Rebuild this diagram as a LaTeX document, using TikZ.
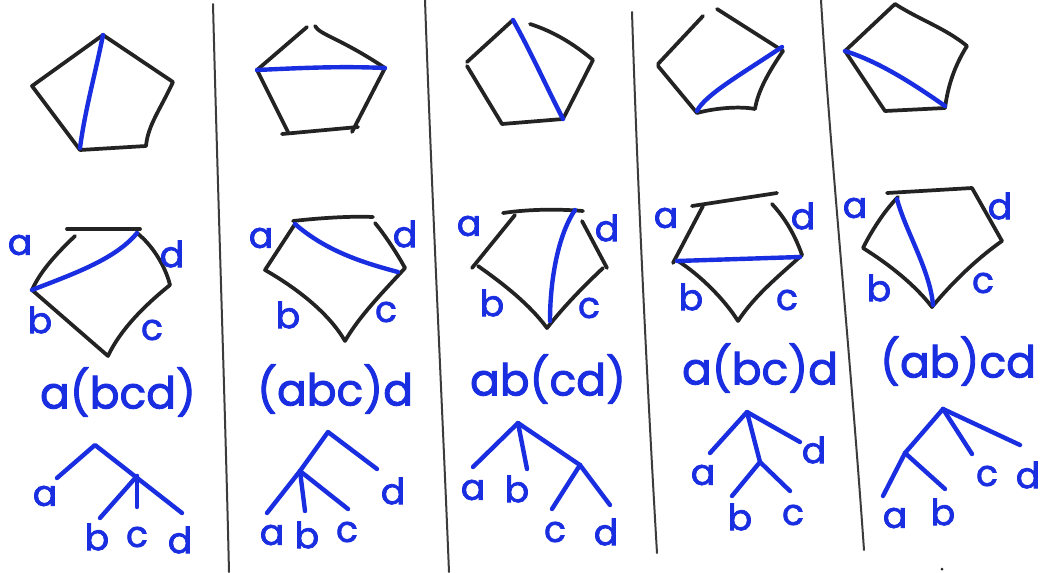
\documentclass[tikz,border=0pt]{standalone}
\usepackage{fontspec}
\setmainfont{Poppins}
\newfontfamily\markerfont{Poppins}[FakeBold=2]
\definecolor{inkblue}{RGB}{25,45,225}
\definecolor{inkblack}{RGB}{35,35,35}
\definecolor{divgray}{RGB}{60,60,60}
\begin{document}
\begin{tikzpicture}[x=0.75pt,y=-0.75pt,
  edge/.style={draw=inkblack,line width=2.8pt,line cap=round,line join=round},
  diag/.style={draw=inkblue,line width=3.3pt,line cap=round,line join=round},
  tree/.style={draw=inkblue,line width=3.3pt,line cap=round,line join=round},
  divider/.style={draw=divgray,line width=1.5pt,line cap=round},
  lbl/.style={text=inkblue,inner sep=0pt,font=\markerfont\fontsize{27}{29}\selectfont},
  formula/.style={text=inkblue,inner sep=0pt,font=\markerfont\fontsize{33}{35}\selectfont}]
\useasboundingbox[fill=white] (0,0) rectangle (1047,572);

% dividers
\draw[divider] (213,4) .. controls (218,200) and (225,400) .. (229,572);
\draw[divider] (425,0) .. controls (432,200) and (442,400) .. (449,572);
\draw[divider] (632,12) .. controls (638,200) and (648,400) .. (657,553);
\draw[divider] (821,0) .. controls (830,150) and (850,350) .. (864,550);
\fill[inkblack] (942,569) circle (1.5);

% ---------- column 1 ----------
\draw[edge] (103,35) -- (173,82) .. controls (160,110) and (148,125) .. (146,146) -- (80,150) -- (32,86) -- cycle;
\draw[diag] (103,35) .. controls (95,75) and (85,110) .. (80,148);

\draw[edge] (67,229) -- (140,229);
\draw[edge] (75,236) .. controls (55,255) and (40,272) .. (32,290) -- (108,356) .. controls (120,330) and (145,305) .. (170,285);
\draw[edge] (137,233) .. controls (152,245) and (165,265) .. (170,285);
\draw[diag] (32,290) .. controls (70,275) and (115,260) .. (137,233);
\node[lbl] (a1) at (20,245) {a};
\node[lbl] (d1) at (172,254) {d};
\node[lbl] (b1) at (40,320) {b};
\node[lbl] (c1) at (152,330) {c};
\node[formula] (f1) at (118,392) {a(bcd)};
\coordinate (r1) at (95,445);
\coordinate (j1) at (137,476);
\draw[tree] (57,478) -- (r1) -- (182,513);
\draw[tree] (j1) -- (100,518);
\draw[tree] (j1) -- (137,507);
\node[lbl] (ta1) at (45,496) {a};
\node[lbl] (tb1) at (97,537) {b};
\node[lbl] (tc1) at (137,537) {c};
\node[lbl] (td1) at (180,540) {d};

% ---------- column 2 ----------
\draw[edge] (257,70) -- (307,27);
\draw[edge] (315,26) .. controls (320,35) and (340,38) .. (385,68) -- (352,132);
\draw[edge] (282,134) -- (358,127);
\draw[edge] (257,70) -- (288,132);
\draw[diag] (257,70) .. controls (300,68) and (340,66) .. (385,68);

\draw[edge] (293,221) .. controls (320,218) and (350,216) .. (373,217);
\draw[edge] (295,224) -- (265,270) .. controls (300,290) and (330,315) .. (345,341) .. controls (360,315) and (385,290) .. (405,268);
\draw[edge] (375,223) .. controls (385,235) and (398,255) .. (405,268);
\draw[diag] (295,224) .. controls (325,250) and (360,262) .. (398,272);
\node[lbl] (a2) at (261,238) {a};
\node[lbl] (d2) at (405,234) {d};
\node[lbl] (b2) at (288,315) {b};
\node[lbl] (c2) at (386,312) {c};
\node[formula] (f2) at (335,389) {(abc)d};
\coordinate (r2) at (328,432);
\coordinate (j2) at (300,471);
\draw[tree] (377,469) -- (r2) -- (j2) -- (267,513);
\draw[tree] (j2) -- (305,511);
\draw[tree] (j2) -- (348,509);
\node[lbl] (ta2) at (272,535) {a};
\node[lbl] (tb2) at (307,535) {b};
\node[lbl] (tc2) at (347,532) {c};
\node[lbl] (td2) at (393,491) {d};

% ---------- column 3 ----------
\draw[edge] (513,20) -- (467,62);
\draw[edge] (530,24) .. controls (555,32) and (575,45) .. (593,60) -- (563,119) -- (502,124) -- (467,66);
\draw[diag] (513,20) .. controls (530,50) and (548,90) .. (563,119);

\draw[edge] (503,213) .. controls (530,209) and (560,209) .. (583,211);
\draw[edge] (515,215) -- (472,268);
\draw[edge] (478,266) .. controls (505,285) and (530,305) .. (547,328) .. controls (565,305) and (585,285) .. (603,268);
\draw[edge] (582,221) -- (607,268);
\draw[diag] (575,210) .. controls (558,235) and (550,280) .. (550,321);
\node[lbl] (a3) at (469,226) {a};
\node[lbl] (d3) at (607,228) {d};
\node[lbl] (b3) at (492,303) {b};
\node[lbl] (c3) at (589,308) {c};
\node[formula] (f3) at (548,379) {ab(cd)};
\coordinate (r3) at (518,423);
\coordinate (j3) at (580,465);
\draw[tree] (473,467) -- (r3) -- (j3) -- (610,505);
\draw[tree] (r3) -- (527,469);
\draw[tree] (j3) -- (552,509);
\node[lbl] (ta3) at (473,490) {a};
\node[lbl] (tb3) at (517,489) {b};
\node[lbl] (tc3) at (555,532) {c};
\node[lbl] (td3) at (606,532) {d};

% ---------- column 4 ----------
\draw[edge] (703,16) -- (658,64);
\draw[edge] (717,9) -- (783,51);
\draw[edge] (658,66) -- (697,113) .. controls (715,108) and (740,106) .. (755,109) .. controls (758,90) and (770,70) .. (783,51);
\draw[diag] (697,111) .. controls (705,95) and (740,75) .. (782,47);

\draw[edge] (692,206) -- (777,193);
\draw[edge] (703,206) -- (673,263);
\draw[edge] (678,261) .. controls (700,275) and (725,300) .. (738,321) .. controls (755,295) and (780,275) .. (802,255);
\draw[edge] (772,204) .. controls (785,218) and (795,235) .. (802,255);
\draw[diag] (677,261) -- (800,257);
\node[lbl] (a4) at (666,218) {a};
\node[lbl] (d4) at (803,216) {d};
\node[lbl] (b4) at (691,297) {b};
\node[lbl] (c4) at (787,300) {c};
\node[formula] (f4) at (760,368) {a(bc)d};
\coordinate (r4) at (747,412);
\coordinate (j4) at (760,462);
\draw[tree] (710,453) -- (r4) -- (800,442);
\draw[tree] (r4) -- (j4);
\draw[tree] (732,496) -- (j4) -- (790,491);
\node[lbl] (ta4) at (703,475) {a};
\node[lbl] (tb4) at (740,517) {b};
\node[lbl] (tc4) at (793,515) {c};
\node[lbl] (td4) at (814,450) {d};

% ---------- column 5 ----------
\draw[edge] (845,51) -- (895,4) .. controls (920,20) and (945,28) .. (967,46) .. controls (955,65) and (948,85) .. (945,108) -- (885,111) -- cycle;
\draw[diag] (845,51) .. controls (880,62) and (915,85) .. (945,106);

\draw[edge] (887,193) -- (972,188) -- (1002,241);
\draw[edge] (898,197) .. controls (885,210) and (872,230) .. (863,248) .. controls (890,265) and (915,285) .. (932,307) .. controls (950,285) and (975,260) .. (1002,241);
\draw[diag] (897,199) .. controls (905,230) and (930,270) .. (933,305);
\node[lbl] (a5) at (855,208) {a};
\node[lbl] (d5) at (1000,206) {d};
\node[lbl] (b5) at (879,288) {b};
\node[lbl] (c5) at (983,283) {c};
\node[formula] (f5) at (958,361) {(ab)cd};
\coordinate (r5) at (943,409);
\coordinate (j5) at (905,453);
\draw[tree] (883,496) -- (j5) -- (r5);
\draw[tree] (j5) -- (945,489);
\draw[tree] (r5) -- (972,454);
\draw[tree] (r5) -- (1020,445);
\node[lbl] (ta5) at (895,518) {a};
\node[lbl] (tb5) at (943,512) {b};
\node[lbl] (tc5) at (987,476) {c};
\node[lbl] (td5) at (1028,475) {d};
\end{tikzpicture}
\end{document}
